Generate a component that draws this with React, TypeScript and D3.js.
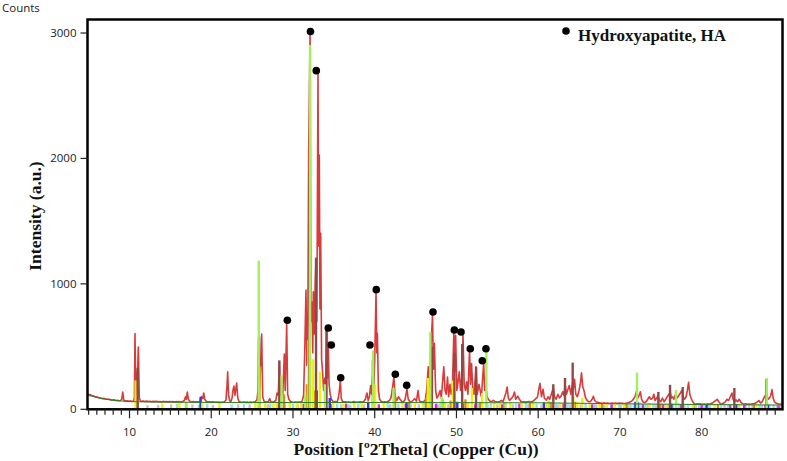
import React from 'react'
import { scaleLinear, line, range } from 'd3'

// axis ticks
const xTicks = [10, 20, 30, 40, 50, 60, 70, 80]
const yTicks = [0, 1000, 2000, 3000]

// measured pattern [2theta, counts]
const pattern: [number, number][] = [
  [4.9,122],[5.1,117],[5.3,113],[5.5,107],[5.7,104],[5.9,99],[6.1,97],[6.3,91],[6.5,90],[6.7,85],[6.9,87],[7.1,81],[7.3,80],[7.5,81],[7.7,75],[7.9,74],[8.1,76],[8.3,70],[8.5,72],[8.7,68],[8.9,70],[9.05,80],[9.17,138],[9.3,72],[9.5,66],[9.7,68],[9.9,64],[10.1,67],[10.3,63],[10.5,66],[10.6,90],[10.67,604],[10.78,120],[10.9,260],[11.0,330],[11.08,497],[11.2,90],[11.35,66],[11.5,63],[11.7,66],[11.9,62],[12.1,65],[12.3,62],[12.5,64],[12.7,60],[12.9,63],[13.1,61],[13.3,64],[13.5,60],[13.7,62],[13.9,59],[14.1,63],[14.3,60],[14.5,62],[14.7,59],[14.9,62],[15.1,59],[15.3,61],[15.5,58],[15.7,61],[15.9,59],[16.1,62],[16.3,58],[16.5,61],[16.7,70],[16.85,100],[16.95,80],[17.07,138],[17.2,80],[17.4,62],[17.6,59],[17.8,61],[18.0,58],[18.2,60],[18.4,58],[18.6,63],[18.8,100],[18.95,85],[19.08,130],[19.2,80],[19.4,62],[19.6,58],[19.8,60],[20.0,57],[20.2,59],[20.4,56],[20.6,58],[20.8,55],[21.0,57],[21.2,54],[21.4,57],[21.6,58],[21.8,75],[21.92,180],[22.01,298],[22.12,110],[22.25,70],[22.4,62],[22.55,90],[22.65,150],[22.78,186],[22.9,110],[23.0,160],[23.11,210],[23.25,90],[23.4,62],[23.6,58],[23.8,56],[24.0,58],[24.2,55],[24.4,57],[24.6,54],[24.8,57],[25.0,55],[25.2,58],[25.4,62],[25.6,75],[25.72,150],[25.81,560],[25.92,160],[26.05,380],[26.17,600],[26.3,100],[26.45,65],[26.6,58],[26.8,60],[27.0,62],[27.15,85],[27.3,60],[27.5,58],[27.7,62],[27.9,70],[28.05,130],[28.2,110],[28.33,380],[28.45,110],[28.6,150],[28.75,120],[28.94,440],[29.05,150],[29.23,680],[29.35,120],[29.5,80],[29.7,62],[29.9,58],[30.1,56],[30.3,58],[30.5,55],[30.7,58],[30.9,57],[31.1,62],[31.3,110],[31.45,500],[31.59,950],[31.7,350],[31.82,700],[31.92,2043],[32.09,3000],[32.2,700],[32.33,856],[32.42,450],[32.49,936],[32.6,600],[32.72,1000],[32.82,1205],[32.92,700],[33.06,2680],[33.14,1300],[33.22,2027],[33.3,800],[33.39,1404],[33.5,400],[33.62,300],[33.75,150],[33.9,250],[34.0,180],[34.13,646],[34.22,250],[34.3,537],[34.42,200],[34.55,120],[34.7,80],[34.85,65],[35.0,60],[35.2,62],[35.4,58],[35.55,90],[35.68,150],[35.79,231],[35.9,90],[36.05,62],[36.25,58],[36.45,60],[36.65,56],[36.85,59],[37.05,55],[37.25,58],[37.45,62],[37.65,56],[37.85,58],[38.05,57],[38.25,59],[38.45,57],[38.65,60],[38.85,80],[39.05,130],[39.2,70],[39.35,100],[39.5,190],[39.62,120],[39.78,300],[39.9,200],[40.0,400],[40.16,936],[40.25,450],[40.33,606],[40.45,150],[40.6,80],[40.8,62],[41.0,58],[41.2,60],[41.4,57],[41.6,62],[41.8,70],[42.0,95],[42.15,160],[42.35,258],[42.5,100],[42.7,70],[42.9,100],[43.1,80],[43.3,62],[43.5,60],[43.7,75],[43.95,160],[44.1,80],[44.3,62],[44.5,60],[44.7,72],[44.9,85],[45.1,65],[45.3,150],[45.45,70],[45.6,62],[45.8,60],[46.0,62],[46.2,75],[46.35,150],[46.55,338],[46.7,180],[46.85,450],[47.07,750],[47.18,320],[47.3,527],[47.45,150],[47.6,90],[47.8,110],[48.0,150],[48.15,90],[48.3,220],[48.45,338],[48.6,150],[48.75,120],[48.9,258],[49.05,100],[49.2,200],[49.35,120],[49.5,160],[49.68,617],[49.78,300],[49.9,590],[50.05,150],[50.2,220],[50.35,300],[50.5,150],[50.65,250],[50.8,590],[50.95,200],[51.1,150],[51.25,220],[51.4,120],[51.6,470],[51.72,200],[51.85,365],[52.0,150],[52.15,120],[52.4,338],[52.55,120],[52.75,200],[52.9,150],[53.05,100],[53.33,366],[53.45,150],[53.6,180],[53.75,100],[53.9,80],[54.1,65],[54.3,60],[54.5,72],[54.7,62],[54.9,60],[55.1,58],[55.3,62],[55.5,72],[55.7,60],[55.9,100],[56.05,130],[56.2,178],[56.35,90],[56.5,70],[56.7,85],[56.9,100],[57.1,138],[57.25,80],[57.5,105],[57.7,80],[57.9,62],[58.1,58],[58.3,60],[58.5,57],[58.7,60],[58.9,62],[59.1,58],[59.3,62],[59.5,72],[59.7,85],[59.9,95],[60.05,150],[60.22,207],[60.4,100],[60.6,160],[60.75,90],[61.0,72],[61.2,100],[61.4,80],[61.6,120],[61.85,170],[62.0,100],[62.2,80],[62.4,120],[62.6,90],[62.8,105],[63.0,140],[63.15,110],[63.3,200],[63.45,120],[63.6,150],[63.8,190],[64.0,120],[64.2,210],[64.3,160],[64.45,240],[64.6,120],[64.8,100],[65.0,150],[65.15,200],[65.3,290],[65.45,180],[65.6,150],[65.8,90],[66.0,70],[66.2,60],[66.4,62],[66.6,80],[66.75,104],[66.9,70],[67.1,58],[67.3,55],[67.5,52],[67.7,50],[67.9,48],[68.1,51],[68.3,47],[68.5,49],[68.7,46],[68.9,48],[69.1,50],[69.3,47],[69.5,49],[69.7,46],[69.9,50],[70.1,48],[70.3,47],[70.5,45],[70.7,48],[70.9,50],[71.1,55],[71.3,60],[71.5,70],[71.7,85],[71.9,110],[72.05,150],[72.2,90],[72.35,110],[72.5,140],[72.65,80],[72.8,60],[73.0,55],[73.2,60],[73.4,80],[73.6,100],[73.8,80],[74.0,90],[74.15,120],[74.3,70],[74.5,90],[74.65,110],[74.85,70],[75.0,60],[75.2,90],[75.4,60],[75.6,80],[75.8,100],[76.0,120],[76.15,140],[76.3,90],[76.45,100],[76.6,80],[76.8,120],[77.0,90],[77.2,110],[77.4,130],[77.55,150],[77.75,100],[77.9,80],[78.1,100],[78.25,150],[78.4,215],[78.55,120],[78.7,90],[78.9,60],[79.1,45],[79.3,42],[79.5,44],[79.7,41],[79.9,43],[80.1,40],[80.3,42],[80.5,40],[80.7,43],[80.9,41],[81.1,45],[81.3,50],[81.5,60],[81.7,70],[81.9,80],[82.1,60],[82.3,45],[82.5,42],[82.7,50],[82.9,60],[83.1,80],[83.3,70],[83.5,100],[83.7,130],[83.85,80],[84.0,60],[84.2,75],[84.4,60],[84.6,80],[84.8,55],[85.0,45],[85.2,42],[85.4,44],[85.6,40],[85.8,42],[86.0,40],[86.2,45],[86.4,42],[86.6,50],[86.8,60],[87.0,70],[87.2,50],[87.4,60],[87.6,90],[87.8,110],[87.95,130],[88.1,80],[88.3,90],[88.45,110],[88.6,157],[88.75,90],[88.9,60],[89.1,50],[89.3,45],[89.5,40],[89.7,42],[89.9,40],
]

// fitted background
const background: [number, number][] = [
  [4.9,112],[5.5,102],[6,94],[6.5,87],[7,81],[7.5,76],[8,72],[9,66],[10,62],[12,59],[15,57],[20,55],[25,54],[30,54],[40,54],[50,53],[55,52],[60,52],[65,48],[70,44],[75,41],[80,38],[85,36],[89.9,34],
]

// Hydroxyapatite peak markers
const haPeaks: [number, number][] = [
  [29.31,710],[32.14,3012],[32.85,2700],[34.32,648],[34.69,513],[35.84,252],[39.42,513],[40.19,954],[42.52,279],[43.91,191],[47.13,776],[49.74,632],[50.56,616],[51.69,483],[53.16,387],[53.61,483],
]

// reference pattern sticks, one list per phase
const greenSticks: [number, number][] = [
  [16.9,60],[25.81,1185],[28.6,270],[31.5,120],[32.09,2905],[33.9,200],[39.8,470],[42.3,170],[46.8,617],[48.2,100],[53.66,457],[56.0,60],[61.3,70],[72.09,293],[76.86,154],[87.95,250],
]
const brownSticks: [number, number][] = [
  [11.0,330],[25.85,580],[28.33,390],[32.04,1907],[32.82,1205],[34.1,640],[39.78,390],[47.0,500],[49.75,450],[50.7,520],[52.4,338],[61.85,200],[63.28,250],[64.22,372],[74.7,138],[76.13,195],[77.68,178],[84.0,170],[87.9,240],
]
const yellowSticks: [number, number][] = [
  [10.75,230],[14.0,45],[16.1,50],[17.0,55],[18.9,50],[21.0,40],[25.4,50],[25.9,340],[26.6,45],[27.6,40],[28.0,60],[29.6,55],[30.5,45],[31.0,50],[31.9,550],[32.45,400],[33.3,300],[34.9,50],[36.2,45],[37.5,55],[38.4,45],[40.05,200],[41.1,50],[43.4,55],[44.9,45],[45.9,50],[46.5,250],[48.6,60],[49.55,230],[51.4,55],[51.9,170],[53.15,130],[54.6,50],[55.3,45],[56.6,55],[58.0,45],[59.4,50],[61.0,55],[62.7,50],[64.3,100],[64.8,60],[65.4,90],[66.3,45],[67.5,50],[68.4,45],[69.4,50],[70.5,45],[73.6,50],[75.6,45],[78.9,40],[81.6,40],[84.5,40],[86.7,40],
]
const cyanSticks: [number, number][] = [
  [11.0,40],[15.8,45],[18.5,40],[19.5,45],[22.5,40],[24.0,40],[27.2,45],[29.0,50],[30.0,45],[35.4,45],[36.8,40],[38.0,45],[41.6,50],[42.9,45],[44.4,45],[46.1,50],[48.0,45],[50.0,50],[52.7,45],[54.2,45],[55.8,50],[57.3,45],[58.5,50],[59.8,45],[60.9,50],[62.2,45],[63.6,50],[65.8,45],[66.9,45],[67.9,40],[68.9,45],[69.9,40],[71.0,45],[71.7,50],[72.4,55],[73.1,45],[74.1,45],[75.1,45],[76.5,45],[77.2,45],[78.3,40],[79.3,35],[80.3,35],[81.0,40],[82.4,40],[83.2,40],[84.6,40],[85.4,35],[86.2,35],[87.1,40],[88.3,40],[89.2,35],
]
const greySticks: [number, number][] = [
  [12.2,35],[13.5,35],[15.1,40],[17.7,40],[20.2,35],[23.3,40],[24.7,40],[26.9,40],[30.6,40],[35.9,40],[37.0,35],[38.7,40],[41.9,40],[44.0,40],[45.4,40],[47.7,40],[49.0,40],[53.8,40],[55.0,40],[56.9,40],[58.8,40],[60.4,40],[62.4,40],[63.9,40],[65.2,40],[67.1,40],[68.1,35],[70.1,35],[71.3,40],[73.4,40],[74.4,40],[75.9,40],[77.9,35],[79.7,35],[80.8,35],[82.8,35],[84.0,35],[85.8,35],[87.4,35],[88.8,35],[89.6,30],
]
const magentaSticks: [number, number][] = [
  [18.8,35],[28.1,40],[31.3,45],[34.7,40],[36.5,45],[40.5,40],[43.8,45],[47.5,45],[50.8,45],[52.3,40],[55.6,40],[57.7,45],[61.4,40],[63.1,45],[66.6,40],[69.0,40],[72.8,40],[75.3,40],[77.5,40],[80.0,35],[83.5,35],[85.2,35],[87.8,35],[89.4,30],
]
const orangeSticks: [number, number][] = [
  [28.9,120],[31.7,200],[32.6,150],[42.5,100],[44.2,60],[46.3,90],[48.3,80],[49.3,70],[51.1,80],[52.9,60],[55.9,50],[59.0,50],[61.6,60],[64.5,60],[67.8,45],[70.8,45],[74.9,45],[79.0,40],[82.0,40],[86.4,35],
]
const blueSticks: [number, number][] = [
  [18.7,100],[32.9,150],[34.5,90],[39.2,60],[43.9,50],[50.1,60],[60.7,55],[71.9,60],[72.2,55],[76.3,45],[80.6,35],[84.3,40],[88.1,35],
]

const phases = [
  { sticks: cyanSticks, color: '#8fe4e8' },
  { sticks: greySticks, color: '#c6c6c6' },
  { sticks: magentaSticks, color: '#ee1cee' },
  { sticks: blueSticks, color: '#3434f2' },
  { sticks: orangeSticks, color: '#de8a10' },
  { sticks: yellowSticks, color: '#f0f00c' },
  { sticks: brownSticks, color: '#8e4848' },
  { sticks: greenSticks, color: '#a2f05c' },
]

function App() {
  const width = 787,
    height = 461
  const left = 87.5,
    right = 782.5,
    top = 19.5,
    bottom = 409.3

  const x = scaleLinear().domain([4.86, 89.89]).range([left, right])
  const y = scaleLinear().domain([0, 3000]).range([bottom, 33])

  const pathGen = line<[number, number]>()
    .x(d => x(d[0]))
    .y(d => y(d[1]))

  const minorTicks = range(5, 90, 1)
  const tickFont = "'Open Sans', 'Noto Sans', sans-serif"
  const titleFont = "'Liberation Serif', 'Times New Roman', serif"

  return (
    <svg width={width} height={height} style={{ position: 'absolute', left: 0, top: 0, background: '#fff' }}>
      <text x={2} y={12} fontFamily={tickFont} fontSize={11.5} fill='#222'>Counts</text>

      {/* measured pattern */}
      <path d={pathGen(pattern) || ''} fill='none' stroke='#d42626' strokeWidth={1.6} strokeOpacity={0.9} strokeLinejoin='round' />

      {/* reference sticks */}
      {phases.map((p, i) => (
        <g key={i}>
          {p.sticks.map((d, j) => (
            <line key={j} x1={x(d[0])} x2={x(d[0])} y1={y(0)} y2={y(d[1])} stroke={p.color} strokeWidth={2.4} />
          ))}
        </g>
      ))}

      {/* background */}
      <path d={pathGen(background) || ''} fill='none' stroke='#2f7d22' strokeWidth={1} />

      {/* HA markers */}
      {haPeaks.map((d, i) => (
        <circle key={i} cx={x(d[0])} cy={y(d[1])} r={3.8} fill='#000' />
      ))}

      {/* frame */}
      <rect x={left} y={top} width={right - left} height={bottom - top} fill='none' stroke='#000' strokeWidth={2.5} />

      {/* y axis */}
      {yTicks.map(t => (
        <g key={t}>
          <line x1={left - 7} x2={left} y1={y(t)} y2={y(t)} stroke='#222' strokeWidth={1.2} />
          <text x={left - 11} y={y(t) + 4} textAnchor='end' fontFamily={tickFont} fontSize={11.5} fill='#222'>{t}</text>
        </g>
      ))}

      {/* x axis */}
      {minorTicks.map(t => (
        <line key={t} x1={x(t)} x2={x(t)} y1={bottom} y2={bottom + (t % 10 === 0 ? 9 : 5.5)} stroke='#222' strokeWidth={1.2} />
      ))}
      {xTicks.map(t => (
        <text key={t} x={x(t)} y={436} textAnchor='middle' fontFamily={tickFont} fontSize={11.5} fill='#222'>{t}</text>
      ))}

      <text x={416} y={455} textAnchor='middle' fontFamily={titleFont} fontWeight='bold' fontSize={17.5} fill='#111'>Position [º2Theta] (Copper (Cu))</text>
      <text transform={`translate(41,216) rotate(-90)`} textAnchor='middle' fontFamily={titleFont} fontWeight='bold' fontSize={17.5} fill='#111'>Intensity (a.u.)</text>

      {/* legend */}
      <circle cx={566} cy={31} r={3.8} fill='#000' />
      <text x={578} y={41} fontFamily={titleFont} fontWeight='bold' fontSize={17} fill='#111'>Hydroxyapatite, HA</text>
    </svg>
  )
}

export default App
